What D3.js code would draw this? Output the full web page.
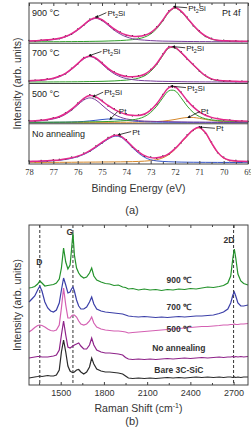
<!DOCTYPE html>
<html>
<head>
<meta charset="utf-8">
<script src="https://cdn.jsdelivr.net/npm/d3@7"></script>
<style>
body { margin: 0; background: #fff; }
svg { display: block; font-family: "Liberation Sans", Arial, sans-serif; }
</style>
</head>
<body>
<script>
// ---------- (a) XPS Pt 4f ----------
var xpsSamples = ['900 °C', '700 °C', '500 °C', 'No annealing'];
var xpsTicks = [78, 77, 76, 75, 74, 73, 72, 71, 70, 69];
var xpsMinor = [77.5, 76.5, 75.5, 74.5, 73.5, 72.5, 71.5, 70.5, 69.5];
var bindingEnergy = [78, 77.75, 77.5, 77.25, 77, 76.75, 76.5, 76.25, 76, 75.75, 75.5, 75.25, 75, 74.75, 74.5, 74.25, 74, 73.75, 73.5, 73.25, 73, 72.75, 72.5, 72.25, 72, 71.75, 71.5, 71.25, 71, 70.75, 70.5, 70.25, 70, 69.75, 69.5, 69.25, 69];

var fit900 = [1.1,1.3,1.7,2.1,2.6,3.6,5.4,8.1,12.0,16.8,21.5,23.7,21.7,17.3,12.7,9.1,6.8,5.6,5.5,6.6,9.2,14.1,21.5,29.7,33.7,30.1,23.5,16.5,10.4,5.9,3.1,1.8,1.3,1.1,0.9,0.8,0.7];
var data900 = [1.5,0.8,2.0,1.8,3.1,3.2,5.9,7.6,12.6,16.2,22.3,24.5,21.0,17.9,12.1,9.8,6.3,6.2,5.0,7.1,8.7,14.8,20.9,30.5,34.6,29.4,24.2,15.8,11.0,5.4,3.6,1.4,1.7,0.7,1.2,0.5,1.0];
var pt2si52_900 = [0.9,1.1,1.4,1.8,2.3,3.3,5.0,7.7,11.5,16.3,20.9,23.0,20.9,16.3,11.5,7.7,5.0,3.3,2.3,1.8,1.4,1.1,0.9,0.8,0.7,0.6,0.5,0.5,0.4,0.4,0.3,0.3,0.3,0.3,0.2,0.2,0.2];
var pt2si72_900 = [0.2,0.2,0.3,0.3,0.3,0.3,0.4,0.4,0.5,0.5,0.6,0.7,0.8,1.0,1.2,1.4,1.8,2.3,3.2,4.8,7.8,13.0,20.6,28.9,33.0,29.5,23.0,16.0,10.0,5.5,2.8,1.5,1.0,0.8,0.7,0.6,0.5];

var fit700 = [1.5,1.8,2.2,2.9,3.9,5.8,8.7,13.0,18.2,23.4,25.7,23.6,18.6,13.6,9.6,7.1,5.7,5.4,5.9,7.8,11.9,18.3,26.9,34.1,34.0,29.1,23.0,17.0,11.4,6.4,3.3,1.9,1.4,1.2,0.9,0.8,0.7];
var data700 = [1.2,2.1,1.9,3.4,3.6,6.3,8.2,13.6,17.7,24.1,26.4,23.0,19.3,13.1,10.2,6.7,6.2,4.9,6.4,7.3,12.5,17.8,27.6,34.8,33.3,29.8,22.4,17.6,10.8,6.9,2.8,2.3,1.0,1.5,0.6,1.1,0.5];
var pt2si52_700 = [1.3,1.5,1.9,2.6,3.6,5.4,8.3,12.5,17.7,22.8,25.0,22.8,17.7,12.5,8.3,5.4,3.6,2.6,1.9,1.5,1.3,1.0,0.9,0.8,0.7,0.6,0.5,0.45,0.4,0.36,0.33,0.3,0.28,0.25,0.23,0.22,0.2];
var pt2si72_700 = [0.23,0.25,0.28,0.3,0.33,0.38,0.4,0.45,0.5,0.6,0.7,0.8,0.9,1.1,1.3,1.7,2.1,2.8,4.0,6.3,10.6,17.3,26.0,33.3,33.3,28.5,22.5,16.5,11.0,6.0,3.0,1.6,1.1,0.9,0.7,0.6,0.5];

var fit500 = [1.55,1.8,2.26,3.0,4.1,5.9,8.8,13.0,18.2,23.6,26.3,24.95,20.9,16.6,12.8,9.9,7.8,7.0,6.9,8.3,12.1,18.25,26.6,34.0,34.8,28.95,21.5,15.2,10.4,7.1,5.0,3.6,2.8,2.1,1.7,1.4,1.3];
var data500 = [1.9,1.4,2.7,2.6,4.6,5.5,9.4,12.4,18.9,23.0,27.1,24.3,21.6,16.0,13.5,9.3,8.4,6.5,7.4,7.8,12.8,17.6,27.3,34.7,34.1,29.6,20.9,15.9,9.8,7.6,4.5,4.0,2.4,2.5,1.3,1.8,0.9];
var pt2si52_500 = [1.2,1.4,1.8,2.5,3.5,5.2,8.0,12.0,17.0,21.9,24.0,21.9,17.0,12.0,8.0,5.2,3.5,2.5,1.8,1.4,1.2,1.0,0.9,0.8,0.7,0.6,0.5,0.4,0.4,0.35,0.3,0.3,0.27,0.24,0.22,0.2,0.2];
var pt2si72_500 = [0.2,0.23,0.26,0.28,0.31,0.35,0.37,0.42,0.46,0.56,0.65,0.74,0.83,1.0,1.2,1.6,1.9,2.6,3.7,5.8,9.8,16.0,24.1,30.9,30.9,24.1,16.0,9.8,5.8,3.7,2.6,1.9,1.6,1.2,1.0,0.83,0.74];
var pt52_500 = [0.11,0.13,0.15,0.18,0.22,0.27,0.35,0.49,0.70,1.05,1.58,2.2,2.9,3.43,3.43,2.9,2.2,1.58,1.05,0.7,0.49,0.35,0.27,0.22,0.18,0.15,0.13,0.11,0.1,0.09,0.08,0.07,0.06,0.06,0.05,0.05,0.04];
var pt72_500 = [0.04,0.04,0.05,0.05,0.06,0.06,0.07,0.07,0.08,0.09,0.1,0.11,0.13,0.14,0.16,0.19,0.23,0.28,0.34,0.44,0.62,0.9,1.35,2.05,3.0,4.1,4.9,4.9,4.1,3.0,2.05,1.35,0.9,0.62,0.44,0.34,0.28];

var fitNa = [1.3,1.5,1.7,2.0,2.4,2.8,3.7,4.8,6.45,8.7,11.75,15.6,19.85,23.8,26.55,26.2,21.7,15.8,10.7,6.9,5.0,4.8,6.1,9.0,13.8,20.05,26.45,32.1,34.45,29.4,19.4,10.35,4.8,2.5,1.8,1.45,1.25];
var dataNa = [1.8,1.1,2.2,1.6,2.9,3.3,3.3,5.5,6.0,9.4,11.2,16.4,19.2,24.6,27.3,25.5,22.5,15.1,11.5,6.3,5.6,4.3,6.7,8.4,14.5,19.4,27.2,31.5,35.2,28.6,20.1,9.8,5.4,2.0,2.3,1.0,1.6];
var pt52_na = [1.0,1.2,1.4,1.6,2.0,2.4,3.2,4.3,5.9,8.1,11.1,14.9,19.1,23.0,25.7,25.3,20.7,14.7,9.4,5.3,2.9,1.8,1.3,1.0,0.8,0.65,0.55,0.5,0.45,0.4,0.38,0.35,0.32,0.3,0.28,0.26,0.25];
var pt72_na = [0.3,0.32,0.34,0.37,0.4,0.43,0.47,0.5,0.55,0.6,0.65,0.7,0.75,0.8,0.85,0.9,1.0,1.1,1.3,1.6,2.1,3.0,4.8,8.0,13.0,19.4,25.9,31.6,34.0,29.0,19.0,10.0,4.5,2.2,1.5,1.2,1.0];

// peak labels: [tip BE, tip I, end BE, end I, name]
var notes900 = [[75.18, 24.8, 74.82, 28.6, 'Pt2Si'], [71.98, 34.3, 71.5, 33.4, 'Pt2Si']];
var notes700 = [[75.45, 26.5, 75.02, 30.0, 'Pt2Si'], [72.02, 34.6, 71.58, 33.6, 'Pt2Si']];
var notes500 = [[75.3, 25.8, 74.95, 29.6, 'Pt2Si'], [72.1, 35.3, 71.55, 34.0, 'Pt2Si'],
                [74.62, 4.4, 74.35, 10.8, 'Pt'], [71.4, 5.6, 70.98, 10.8, 'Pt']];
var notesNa = [[74.26, 27.6, 73.8, 30.4, 'Pt'], [70.9, 34.6, 70.36, 33.6, 'Pt']];

// ---------- (b) Raman ----------
var ramanTicks = [1500, 1800, 2100, 2400, 2700];
var ramanMinor = [1350, 1650, 1950, 2250, 2550];
var ramanBands = [1355, 1585, 2700];
var ramanBandNames = ['D', 'G', '2D'];
var ramanSamples = ['900 ℃', '700 ℃', '500 ℃', 'No annealing', 'Bare 3C-SiC'];
var ramanShift = [1280,1300,1320,1340,1355,1370,1390,1410,1430,1450,1470,1490,1505,1520,1535,1550,1565,1575,1585,1595,1610,1625,1640,1660,1680,1700,1715,1730,1750,1780,1810,1840,1870,1900,1930,1950,1970,2000,2040,2080,2120,2160,2200,2240,2280,2320,2360,2400,2440,2480,2520,2560,2600,2630,2660,2680,2695,2705,2715,2730,2750,2770,2800];
var raman900 = [97,97.5,98.5,101,104,102,99,99.5,100,100.5,102,106,117,137,123,116,120,135,152,130,117,112,109,107,108,112,117,109,105,103,101.5,101,99.5,100,98,97.5,96,96.5,95,96,95,95.5,94.5,95.5,95,96,95.5,96.5,96,97,98,97.5,98.5,99.5,102,109,127,136,127,111,104,101.5,100];
var raman700 = [83,86,89,95,99,94,83,77,74,73,75,82,95,107,100,92,93,96,98,94,85,79,76,76,78,83,88,81,76,74,73,72.5,72,71.5,71,70,69,68.5,68,68.5,68,67.5,68,67.5,68,68.5,68,68.5,69,69,69.5,70,71.5,73,76,82,90,93,89,82,79,79,80];
var raman500 = [53,55,57.5,59.5,60,59.5,58,56,54.5,54,55,60,77,97,80,67,67,69,70,70,68,64,61,60,61,64,68,62,58,56,55,54.5,54,54,53.5,53,52,52.5,53,53.5,54,54.5,55,55.5,56,56.5,57,57.5,58,58.5,58.5,59,59.5,60,60,60.5,60.5,61,60.5,60.5,61,61,61.5];
var ramanNa = [27,27.5,28,28.5,28.5,28,28,28,28.5,29,30,35,50,64,50,38,37,38,39,40,41,42,39,36,36,40,47,40,35,33,32,32,31.5,31,30,27.5,26,25.5,26,25.5,26,25.5,26,26.5,26,26.5,27,26.5,27,27.5,27,27.5,28,27.5,28,28,28.5,28,28.5,28,28.5,28,28.5];
var ramanBare = [7,7.5,8,8.5,9,8.5,9,9.5,9,9,10,15,33,45,33,19,14,13,12.5,13,15,15.5,13,11,13,18,27,21,16,14,13,13,12.5,12,11,9,7,6.5,7,6.5,7,6.5,7,7.5,7,7.5,7,7.5,8,7.5,8,7.5,8,7.5,8,8,7.5,8,7.5,8,7.5,8,8];
var ramanLabelLevel = [102, 75, 53, 34, 12];

// ---------- drawing ----------
var width = 251, height = 428;
var left = 29, right = 248;
var purple = '#7b3d9c', green = '#33a02c', blue = '#3454c4', orange = '#d6892c', pink = '#e3298c';

var svg = d3.select('body').append('svg')
	.attr('width', width)
	.attr('height', height);

var defs = svg.append('defs');
defs.append('marker')
	.attr('id', 'tip')
	.attr('viewBox', '0 0 6 6')
	.attr('refX', 1).attr('refY', 3)
	.attr('markerWidth', 4).attr('markerHeight', 4)
	.attr('orient', 'auto-start-reverse')
	.append('path').attr('d', 'M0,0L6,3L0,6Z').attr('fill', '#111');

// panel a
var aTop = 3, aBottom = 164;
var bandH = (aBottom - aTop) / 4;
var xA = d3.scaleLinear().domain([78, 69]).range([left, right]);

var xpsPanels = [
	{name: xpsSamples[0], fit: fit900, data: data900, notes: notes900,
	 comps: [[pt2si72_900, green], [pt2si52_900, purple]]},
	{name: xpsSamples[1], fit: fit700, data: data700, notes: notes700,
	 comps: [[pt2si72_700, green], [pt2si52_700, purple]]},
	{name: xpsSamples[2], fit: fit500, data: data500, notes: notes500,
	 comps: [[pt72_500, orange], [pt52_500, blue], [pt2si52_500, purple], [pt2si72_500, green]]},
	{name: xpsSamples[3], fit: fitNa, data: dataNa, notes: notesNa,
	 comps: [[pt72_na, orange], [pt52_na, blue]]}
];

var gA = svg.append('g');

xpsPanels.forEach(function(p, k) {
	var top = aTop + k * bandH;
	var y = d3.scaleLinear().domain([-1.2, 38]).range([top + bandH, top]);
	var line = d3.line()
		.x(function(d, i) { return xA(bindingEnergy[i]); })
		.y(function(d) { return y(d); })
		.curve(d3.curveCatmullRom);
	var g = gA.append('g');
	p.comps.forEach(function(c) {
		g.append('path').attr('d', line(c[0]))
			.attr('fill', 'none').attr('stroke', c[1]).attr('stroke-width', 1);
	});
	g.selectAll('rect.pt').data(p.data).enter().append('rect')
		.attr('x', function(d, i) { return xA(bindingEnergy[i]) - 0.65; })
		.attr('y', function(d) { return y(d) - 0.65; })
		.attr('width', 1.3).attr('height', 1.3)
		.attr('fill', '#222');
	g.append('path').attr('d', line(p.fit))
		.attr('fill', 'none').attr('stroke', pink).attr('stroke-width', 1.5);
	g.append('text')
		.attr('x', 32).attr('y', top + 13)
		.attr('font-size', 9).attr('fill', '#222')
		.text(p.name);
	p.notes.forEach(function(n) {
		g.append('line')
			.attr('x1', xA(n[2])).attr('y1', y(n[3]))
			.attr('x2', xA(n[0])).attr('y2', y(n[1]))
			.attr('stroke', '#111').attr('stroke-width', 0.8)
			.attr('marker-end', 'url(#tip)');
		var t = g.append('text')
			.attr('x', xA(n[2]) + 1).attr('y', y(n[3]) + 3)
			.attr('font-size', 8).attr('fill', '#222');
		if (n[4] === 'Pt2Si') {
			t.append('tspan').text('Pt');
			t.append('tspan').attr('font-size', 5.5).attr('dy', 2).text('2');
			t.append('tspan').attr('dy', -2).text('Si');
		} else {
			t.text(n[4]);
		}
	});
	if (k > 0) {
		gA.append('line')
			.attr('x1', left).attr('x2', right)
			.attr('y1', top).attr('y2', top)
			.attr('stroke', '#444').attr('stroke-width', 1);
	}
});

gA.append('text')
	.attr('x', 222).attr('y', aTop + 13)
	.attr('font-size', 9).attr('fill', '#222')
	.text('Pt 4f');

gA.append('rect')
	.attr('x', left).attr('y', aTop)
	.attr('width', right - left).attr('height', aBottom - aTop)
	.attr('fill', 'none').attr('stroke', '#444').attr('stroke-width', 1);

function ticks(g, axis, values, size, fmt) {
	var a = g.call(axis.tickValues(values).tickSize(size).tickSizeOuter(0).tickFormat(fmt));
	a.select('.domain').remove();
	a.selectAll('line').attr('stroke', '#444');
	return a;
}

var axA = ticks(gA.append('g').attr('transform', 'translate(0,' + aBottom + ')'),
	d3.axisBottom(xA).tickPadding(5), xpsTicks, -3, d3.format('d'));
axA.selectAll('text')
	.attr('font-family', '"Liberation Serif", "Times New Roman", serif')
	.attr('font-size', 8.5).attr('fill', '#333');
ticks(gA.append('g').attr('transform', 'translate(0,' + aBottom + ')'),
	d3.axisBottom(xA), xpsMinor, -2, '');
ticks(gA.append('g').attr('transform', 'translate(0,' + aTop + ')'),
	d3.axisTop(xA), xpsTicks, -3, '');
ticks(gA.append('g').attr('transform', 'translate(0,' + aTop + ')'),
	d3.axisTop(xA), xpsMinor, -2, '');

gA.append('text')
	.attr('x', (left + right) / 2).attr('y', 192)
	.attr('text-anchor', 'middle').attr('font-size', 10.5).attr('fill', '#333')
	.text('Binding Energy (eV)');
gA.append('text')
	.attr('transform', 'translate(21,' + ((aTop + aBottom) / 2) + ') rotate(-90)')
	.attr('text-anchor', 'middle').attr('font-size', 10.5).attr('fill', '#333')
	.text('Intensity (arb. units)');
gA.append('text')
	.attr('x', 132).attr('y', 214)
	.attr('text-anchor', 'middle').attr('font-size', 11).attr('fill', '#333')
	.text('(a)');

// panel b
var bTop = 225, bBottom = 385;
var xB = d3.scaleLinear().domain([1280, 2800]).range([left, right]);
var yB = d3.scaleLinear().domain([0, 160]).range([bBottom, bTop]);
var gB = svg.append('g');

var ramanSeries = [
	{name: ramanSamples[0], values: raman900, color: '#23922b'},
	{name: ramanSamples[1], values: raman700, color: '#3b3fa8'},
	{name: ramanSamples[2], values: raman500, color: '#d460b2'},
	{name: ramanSamples[3], values: ramanNa, color: '#8e2389'},
	{name: ramanSamples[4], values: ramanBare, color: '#2a2a2a'}
];

var rLine = d3.line()
	.x(function(d, i) { return xB(ramanShift[i]); })
	.y(function(d) { return yB(d); });

ramanBands.forEach(function(b) {
	gB.append('line')
		.attr('x1', xB(b)).attr('x2', xB(b))
		.attr('y1', bTop).attr('y2', bBottom)
		.attr('stroke', '#333').attr('stroke-width', 1)
		.attr('stroke-dasharray', '3,2');
});

ramanSeries.forEach(function(s, k) {
	gB.append('path').attr('d', rLine(s.values))
		.attr('fill', 'none').attr('stroke', s.color).attr('stroke-width', 1.2);
	gB.append('text')
		.attr('x', xB(2320)).attr('y', yB(ramanLabelLevel[k]))
		.attr('text-anchor', 'middle')
		.attr('font-size', 8.5).attr('font-weight', 'bold').attr('fill', '#333')
		.text(s.name);
});

var bandLabelPos = [[1330, 120], [1540, 150], [2630, 142]];
ramanBandNames.forEach(function(n, i) {
	gB.append('text')
		.attr('x', xB(bandLabelPos[i][0])).attr('y', yB(bandLabelPos[i][1]))
		.attr('font-size', 8.5).attr('font-weight', 'bold').attr('fill', '#333')
		.text(n);
});

gB.append('rect')
	.attr('x', left).attr('y', bTop)
	.attr('width', right - left).attr('height', bBottom - bTop)
	.attr('fill', 'none').attr('stroke', '#444').attr('stroke-width', 1);

var axB = ticks(gB.append('g').attr('transform', 'translate(0,' + bBottom + ')'),
	d3.axisBottom(xB).tickPadding(5), ramanTicks, -3, d3.format('d'));
axB.selectAll('text')
	.attr('font-family', '"Liberation Sans", Arial, sans-serif')
	.attr('font-size', 9).attr('fill', '#333');
ticks(gB.append('g').attr('transform', 'translate(0,' + bBottom + ')'),
	d3.axisBottom(xB), ramanMinor, -2, '');
ticks(gB.append('g').attr('transform', 'translate(0,' + bTop + ')'),
	d3.axisTop(xB), ramanTicks, -3, '');
ticks(gB.append('g').attr('transform', 'translate(0,' + bTop + ')'),
	d3.axisTop(xB), ramanMinor, -2, '');

var xt = gB.append('text')
	.attr('x', (left + right) / 2).attr('y', 412)
	.attr('text-anchor', 'middle').attr('font-size', 10.5).attr('fill', '#333');
xt.append('tspan').text('Raman Shift (cm');
xt.append('tspan').attr('font-size', 7).attr('dy', -4).text('-1');
xt.append('tspan').attr('dy', 4).text(')');
gB.append('text')
	.attr('transform', 'translate(21,' + ((bTop + bBottom) / 2) + ') rotate(-90)')
	.attr('text-anchor', 'middle').attr('font-size', 10.5).attr('fill', '#333')
	.text('Intensity (arb. units)');
gB.append('text')
	.attr('x', 132).attr('y', 425)
	.attr('text-anchor', 'middle').attr('font-size', 11).attr('fill', '#333')
	.text('(b)');
</script>
</body>
</html>
